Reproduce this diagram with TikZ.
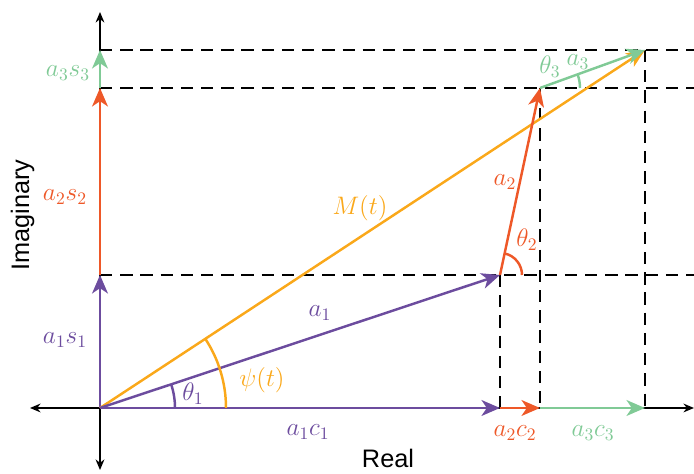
\documentclass[tikz,border=0pt]{standalone}
\usepackage{fontspec}
\newfontfamily\axisfont{Liberation Sans}
\usetikzlibrary{arrows.meta}
\definecolor{vpurple}{RGB}{108,76,158}
\definecolor{vorange}{RGB}{238,88,40}
\definecolor{vgreen}{RGB}{128,202,150}
\definecolor{vgold}{RGB}{250,168,26}
\tikzset{
  vec/.style={line width=1.4pt,-{Stealth[length=10.5pt,width=9pt,inset=3pt]}},
  axis/.style={line width=0.9pt,{Stealth[length=6pt,width=5pt]}-{Stealth[length=6pt,width=5pt]}},
  guide/.style={line width=1.1pt,dash pattern=on 7pt off 4.5pt},
  anglearc/.style={line width=1.4pt},
  lbl/.style={font=\Large},
}
\begin{document}
\begin{tikzpicture}
  \useasboundingbox (-2.0,-1.32) rectangle (11.88,8.16);
  \coordinate (O) at (0,0);
  \coordinate (P1) at (8.0,2.66);
  \coordinate (P2) at (8.8,6.40);
  \coordinate (P3) at (10.9,7.16);
  \coordinate (XL) at (-1.4,0);
  \coordinate (XR) at (11.88,0);
  \coordinate (YB) at (0,-1.24);
  \coordinate (YT) at (0,7.92);
  \foreach \p in {P1,P2,P3} {
    \coordinate (X\p) at (\p |- O);
    \coordinate (Y\p) at (O |- \p);
    \draw[guide] (Y\p) -- (XR |- \p);
    \draw[guide] (\p) -- (X\p);
  }
  \draw[axis] (XL) -- (XR);
  \draw[axis] (YB) -- (YT);

  \draw[vec, vpurple] (O) -- (XP1);
  \draw[vec, vorange] (XP1) -- (XP2);
  \draw[vec, vgreen] (XP2) -- (XP3);
  \draw[vec, vpurple] (O) -- (YP1);
  \draw[vec, vorange] (YP1) -- (YP2);
  \draw[vec, vgreen] (YP2) -- (YP3);

  \draw[vec, vgold] (O) -- (P3);
  \draw[vec, vpurple] (O) -- (P1);
  \draw[vec, vorange] (P1) -- (P2);
  \draw[vec, vgreen] (P2) -- (P3);

  \draw[anglearc, vpurple] (O) ++(1.5,0) arc[start angle=0, end angle=18.4, radius=1.5];
  \draw[anglearc, vgold] (O) ++(2.52,0) arc[start angle=0, end angle=33.3, radius=2.52];
  \draw[anglearc, vorange] (P1) ++(0.44,0) arc[start angle=0, end angle=77.9, radius=0.44];
  \draw[anglearc, vgreen] (P2) ++(0.8,0) arc[start angle=0, end angle=19.9, radius=0.8];

  \node[rotate=90, font=\axisfont\Large] (imag) at (-1.55,3.86) {Imaginary};
  \node[font=\axisfont\Large] (real) at (5.76,-1.0) {Real};
  \node[lbl, vpurple] (as1) at (-0.7,1.36) {$a_1s_1$};
  \node[lbl, vorange] (as2) at (-0.7,4.22) {$a_2s_2$};
  \node[lbl, vgreen] (as3) at (-0.64,6.7) {$a_3s_3$};
  \node[lbl, vpurple] (ac1) at (4.16,-0.48) {$a_1c_1$};
  \node[lbl, vorange] (ac2) at (8.3,-0.5) {$a_2c_2$};
  \node[lbl, vgreen] (ac3) at (9.86,-0.5) {$a_3c_3$};
  \node[lbl, vpurple] (a1) at (4.4,1.9) {$a_1$};
  \node[lbl, vorange] (a2) at (8.1,4.52) {$a_2$};
  \node[lbl, vgreen] (a3) at (9.56,6.92) {$a_3$};
  \node[lbl, vpurple] (t1) at (1.86,0.28) {$\theta_1$};
  \node[lbl, vorange] (t2) at (8.54,3.36) {$\theta_2$};
  \node[lbl, vgreen] (t3) at (9.0,6.82) {$\theta_3$};
  \node[lbl, vgold] (psi) at (3.24,0.56) {$\psi(t)$};
  \node[lbl, vgold] (mt) at (5.2,4.0) {$M(t)$};
\end{tikzpicture}
\end{document}
